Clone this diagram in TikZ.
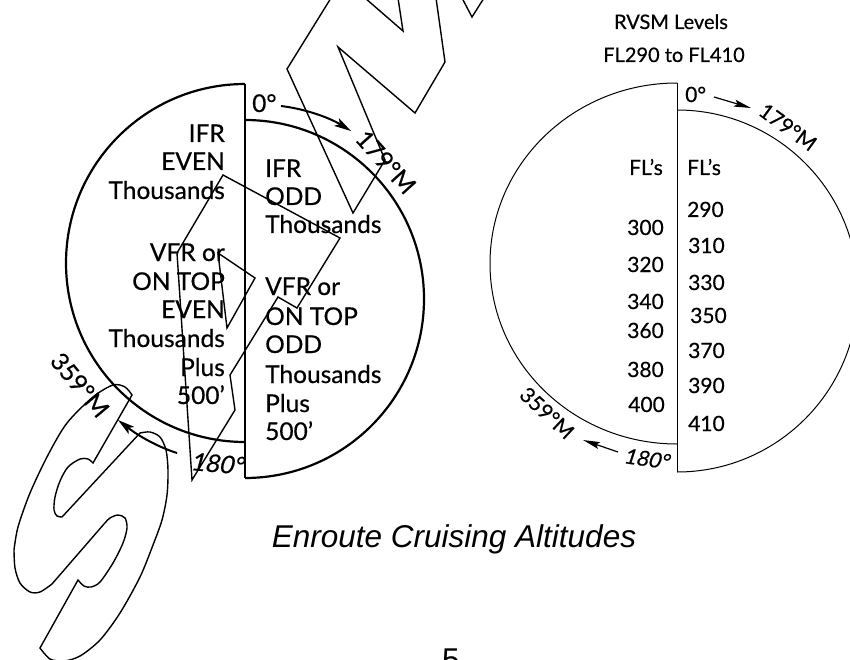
\documentclass[tikz,border=0pt]{standalone}
\usepackage{fontspec}
\setmainfont{Lato}[FakeBold=0.5]
\newfontfamily\capfont{Liberation Sans}
\newfontfamily\slfont[FakeSlant=0.18,FakeBold=0.5]{Lato}
\usetikzlibrary{arrows.meta}
\begin{document}
\begin{tikzpicture}[x=1pt,y=-1pt,
  lt/.style={font=\fontsize{24.5}{28}\selectfont, inner sep=0pt},
  rt/.style={font=\fontsize{21}{24}\selectfont, inner sep=0pt},
  figA/.style={line width=2.2pt},
  figB/.style={line width=1pt},
  wm/.style={line width=1.4pt, line join=miter},
  arrL/.style={line width=2pt, -{Stealth[length=17pt,width=9pt,inset=4pt]}},
  arrR/.style={line width=1.2pt, -{Stealth[length=17pt,width=7pt,inset=3pt]}},
  capstyle/.style={font=\capfont\itshape\fontsize{31.5}{36}\selectfont, inner sep=0pt}]
\useasboundingbox (0,0) rectangle (850,660);
\clip (0,0) rectangle (850,660);

% ---------- left figure ----------
\draw[figA] (245,84) arc[start angle=90,end angle=270,radius=179pt];
\draw[figA] (245,120) arc[start angle=90,end angle=-90,radius=179pt];
\draw[figA] (245,84) -- (245,478);

\node[lt,anchor=base east] (le1) at (225,142) {IFR};
\node[lt,anchor=base east] (le2) at (225,170) {EVEN};
\node[lt,anchor=base east] (le3) at (225,199) {Thousands};
\node[lt,anchor=base east] (le4) at (225,261) {VFR or};
\node[lt,anchor=base east] (le5) at (225,290) {ON TOP};
\node[lt,anchor=base east] (le6) at (225,318) {EVEN};
\node[lt,anchor=base east] (le7) at (225,347) {Thousands};
\node[lt,anchor=base east] (le8) at (225,376) {Plus};
\node[lt,anchor=base east] (le9) at (225,404) {500’};

\node[lt,anchor=base west] (ro1) at (265,177) {IFR};
\node[lt,anchor=base west] (ro2) at (265,205) {ODD};
\node[lt,anchor=base west] (ro3) at (265,233) {Thousands};
\node[lt,anchor=base west] (ro4) at (265,295) {VFR or};
\node[lt,anchor=base west] (ro5) at (265,325) {ON TOP};
\node[lt,anchor=base west] (ro6) at (265,353) {ODD};
\node[lt,anchor=base west] (ro7) at (265,383) {Thousands};
\node[lt,anchor=base west] (ro8) at (265,412) {Plus};
\node[lt,anchor=base west] (ro9) at (265,440) {500’};

\node[lt,anchor=base west] (z1) at (252,112) {0°};
\node[lt,rotate=-48] (a179) at (386,162) {179°M};
\node[lt,rotate=-50] (a359) at (80,385) {359°M};
\node[lt,font=\slfont\fontsize{24.5}{28}\selectfont,anchor=base west,rotate=-5] (b180) at (190,470) {180°};

\coordinate (la1) at (281,106);
\coordinate (la2) at (351,131);
\draw[arrL] (la1) .. controls (306,109) and (330,118) .. (la2);
\coordinate (lb1) at (177,453);
\coordinate (lb2) at (118,420);
\draw[arrL] (lb1) .. controls (155,446) and (136,434) .. (lb2);

% ---------- right figure ----------
\draw[figB] (677,83) arc[start angle=90,end angle=270,x radius=187pt,y radius=180.5pt];
\draw[figB] (677,110) arc[start angle=90,end angle=-90,radius=181pt];
\draw[figB] (677,83) -- (677,472);

\node[rt,font=\fontsize{20}{24}\selectfont,anchor=base] (rv1) at (671,29) {RVSM Levels};
\node[rt,font=\fontsize{20}{24}\selectfont,anchor=base] (rv2) at (674,62) {FL290 to FL410};

\node[rt,anchor=base west] (z2) at (685,102) {0°};
\node[rt,rotate=-36] (c179) at (788,127) {179°M};
\node[rt,rotate=-43] (c359) at (547,413) {359°M};
\node[rt,font=\slfont\fontsize{21}{24}\selectfont,anchor=base west,rotate=-8] (d180) at (623,463) {180°};

\node[rt,anchor=base east] (fl1) at (663,175) {FL’s};
\node[rt,anchor=base west] (fl2) at (687,175) {FL’s};

\node[rt,anchor=base east] (n300) at (664,235) {300};
\node[rt,anchor=base east] (n320) at (664,272) {320};
\node[rt,anchor=base east] (n340) at (664,309) {340};
\node[rt,anchor=base east] (n360) at (664,338) {360};
\node[rt,anchor=base east] (n380) at (664,377) {380};
\node[rt,anchor=base east] (n400) at (665,412) {400};

\node[rt,anchor=base west] (n290) at (687,217) {290};
\node[rt,anchor=base west] (n310) at (688,253) {310};
\node[rt,anchor=base west] (n330) at (688,290) {330};
\node[rt,anchor=base west] (n350) at (690,323) {350};
\node[rt,anchor=base west] (n370) at (688,358) {370};
\node[rt,anchor=base west] (n390) at (688,393) {390};
\node[rt,anchor=base west] (n410) at (688,431) {410};

\coordinate (ra1) at (714,97);
\coordinate (ra2) at (751,108);
\draw[arrR] (ra1) -- (ra2);
\coordinate (rb1) at (618,452);
\coordinate (rb2) at (583,440);
\draw[arrR] (rb1) -- (rb2);

% ---------- caption ----------
\node[capstyle,anchor=base] (cap) at (454,547) {Enroute Cruising Altitudes};
\node[capstyle,font=\capfont\fontsize{31.5}{36}\selectfont,anchor=base] (pg) at (451,670) {5};

% ---------- watermark outline ----------
\draw[wm] (331,-2) -- (287,69) -- (353,213) -- (385,160) -- (338,47) -- (415,113) -- (445,62) -- (436,-2);
\draw[wm] (365,-2) -- (403,31) -- (398,-2);
\draw[wm] (462,-2) -- (472,17) -- (484,-2);
\draw[wm] (223,175) -- (340,238) -- (297,308) -- (278,297) -- (230,375) -- (235,410) -- (192,480) -- (177,253) -- cycle;
\draw[wm] (218,253) -- (255,278) -- (227,328) -- cycle;
\draw[wm] plot[smooth] coordinates {(14,550) (18,527) (30,493) (48,455) (67,423) (93,397) (113,385) (125,387) (132,395)}
  -- plot[smooth] coordinates {(93,463) (88,459) (80,459) (68,467) (60,481) (55,497) (54,510) (57,516) (62,517)}
  -- plot[smooth] coordinates {(140,433) (150,432) (160,437) (166,450) (168,470) (167,495) (162,520) (153,545) (140,577) (120,613) (100,640) (80,656) (64,661) (50,659) (40,648)}
  -- plot[smooth] coordinates {(78,580) (84,586) (91,587) (100,582) (113,563) (123,543) (127,528) (125,518) (118,515) (110,518) (104,524)}
  -- plot[smooth] coordinates {(52,584) (40,592) (30,592) (20,583) (15,568) (14,550)} -- cycle;
\end{tikzpicture}
\end{document}
